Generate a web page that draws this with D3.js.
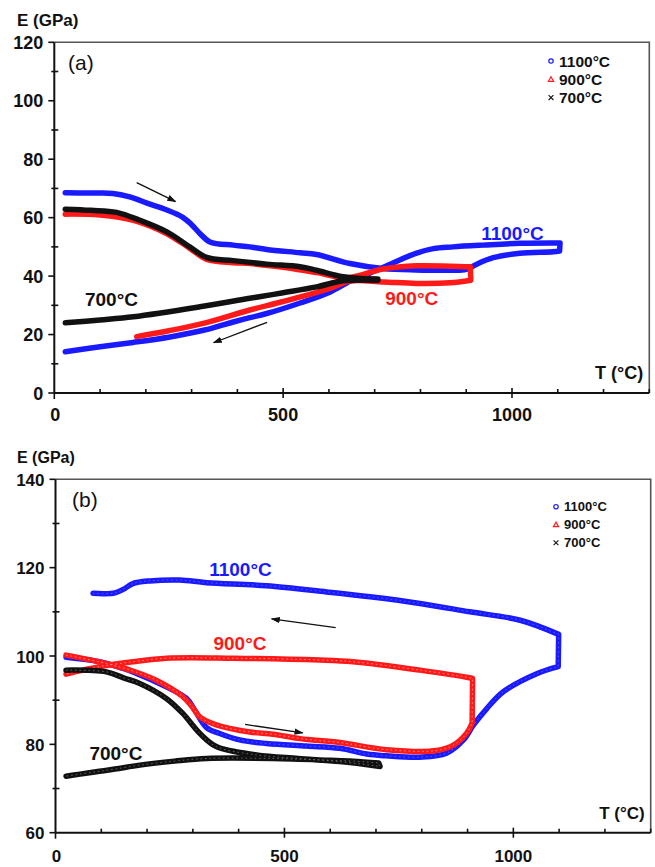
<!DOCTYPE html>
<html><head><meta charset="utf-8">
<script src="https://cdn.jsdelivr.net/npm/d3@7"></script>
<style>body{margin:0;background:#fff}svg{display:block}text{font-family:"Liberation Sans",Arial,sans-serif}</style>
</head><body>
<script>
// ---------- DATA (T in °C, E in GPa) ----------
const seriesNames = ["1100°C", "900°C", "700°C"];
const xTicks = [0, 500, 1000];
const yTicksA = [0, 20, 40, 60, 80, 100, 120];
const yTicksB = [60, 80, 100, 120, 140];

// Panel (a): heating then cooling branches
const a1100Heat = [[24,68.5],[80,68.4],[128,68.3],[165,67.1],[209,64.6],[246,62.6],[280,60.2],[300,57.6],[318,54.6],[340,51.7],[391,50.6],[427,50],[464,49.1],[537,48],[573,47.4],[646,44.3],[718,42.6],[790,42.1],[864,42],[900,42.3],[922,44],[959,46.3],[1017,47.8],[1090,48.3],[1104,48.6]];
const a1100Cool = [[1105,51.3],[1017,51.2],[937,50.6],[871,50],[828,49.4],[790,47.8],[740,44.5],[689,41],[646,38.2],[602,34.5],[537,30.8],[464,27.2],[427,25.8],[391,24.3],[347,22.3],[300,20.6],[250,19.1],[172,17.3],[100,15.8],[24,14.1]];
const a900Heat = [[24,61.2],[100,60.9],[173,59.1],[245,54.6],[296,49.5],[333,45.7],[391,44.6],[427,44.3],[500,43],[573,41.2],[638,39.4],[718,42.4],[791,43.5],[864,43.4],[909,43.2]];
const a900Cool = [[910,38.6],[864,37.7],[791,37.5],[718,38],[646,38.3],[602,35.8],[500,31.3],[427,28.4],[330,24],[250,21.3],[180,19.3]];
const a700Heat = [[24,62.9],[80,62.5],[136,61.8],[187,59.1],[245,55.2],[296,50],[333,46.4],[391,45.3],[464,44.1],[537,43.2],[573,42],[631,39.8],[707,39]];
const a700Cool = [[707,38.6],[631,38.4],[573,36.3],[500,34.3],[427,32.4],[318,29.5],[173,26.1],[100,25],[24,24]];

// Panel (b)
const b1100Heat = [[23,99.7],[96,98.7],[147,97.2],[169,96.4],[242,93],[286,90.4],[305,87.6],[330,83.8],[360,82.4],[402,81],[461,80.2],[548,79.6],[621,79.1],[680,77.8],[723,77.4],[796,77.1],[854,78],[891,81],[913,84.4],[942,88.1],[978,91.9],[1051,96],[1098,97.6]];
const b1100Cool = [[1099,104.9],[1015,108.1],[905,110],[796,111.9],[687,113.4],[592,114.5],[461,115.9],[330,116.6],[271,117.2],[206,117],[169,116.4],[150,115.2],[130,114.3],[105,114.1],[82,114.2]];
const b900Heat = [[23,100.2],[111,98.3],[169,96.6],[220,94.5],[278,90.8],[300,88.3],[315,86.2],[351,84.4],[424,82.8],[475,82.3],[534,81.3],[621,80.4],[723,78.8],[832,78.6],[869,79.8],[898,82.5],[910,84.8]];
const b900Cool = [[911,94.9],[898,95.2],[796,96.8],[650,98.7],[577,99.1],[388,99.5],[242,99.5],[169,98.7],[96,97.6],[60,96.8],[23,95.9]];
const b700Heat = [[23,96.8],[111,96.4],[150,95],[184,93.8],[242,90.4],[278,87],[315,82.5],[351,79.5],[439,77.6],[530,76.8],[621,76.1],[709,75]];
const b700Cool = [[706,75.8],[650,76.2],[600,76.4],[475,76.8],[330,76.8],[260,76.2],[184,75.3],[130,74.4],[89,73.8],[50,73.2],[23,72.8]];

// Annotations (data coords)
const labelsA = [["700°C",125,29.7,"#111"],["1100°C",1001,52.4,"#1a1aff"],["900°C",781,30,"#ff1a1a"]];
const labelsB = [["1100°C",404,118.1,"#1a1aff"],["900°C",403,101.3,"#ff1a1a"],["700°C",132,76.4,"#111"]];
const arrowsA = [[180,72,265,65.5],[465,24.2,348,17.2]];
const arrowsB = [[612,106.4,472,108.4],[414,84.5,540,82.6]];

// ---------- DRAW ----------
const colors = ["#1a1aff", "#ff1a1a", "#111"];
const svg = d3.select("body").append("svg").attr("width", 655).attr("height", 867);
const defs = svg.append("defs");
defs.append("marker").attr("id","ah").attr("viewBox","0 0 10 10").attr("refX",9).attr("refY",5)
  .attr("markerWidth",7).attr("markerHeight",7).attr("orient","auto")
  .append("path").attr("d","M0,1.5L10,5L0,8.5Z").attr("fill","#111");

function panel(cfg) {
  const x = d3.scaleLinear().domain([0, 1300]).range([cfg.left, cfg.right]);
  const y = d3.scaleLinear().domain(cfg.ydom).range([cfg.bottom, cfg.top]);
  const g = svg.append("g");
  g.append("path").attr("d", `M${cfg.left},${cfg.top}H${cfg.right}V${cfg.bottom}`)
    .attr("fill","none").attr("stroke","#555").attr("stroke-width",1.6);

  const line = d3.line().x(d => x(d[0])).y(d => y(d[1])).curve(d3.curveCatmullRom.alpha(0.5));
  cfg.series.forEach((s, i) => {
    const d = line(s[0]) + "L" + line(s[1]).slice(1);
    g.append("path").attr("d", d).attr("fill","none").attr("stroke", colors[i])
      .attr("stroke-width", cfg.lw).attr("stroke-linejoin","round").attr("stroke-linecap","round");
    if (cfg.texture) {
      g.append("path").attr("d", d).attr("fill","none").attr("stroke", i===1 ? "#ffb0b0" : (i===0 ? "#6a6aff" : "#777"))
        .attr("stroke-width", 1).attr("stroke-dasharray","1.5 3").attr("opacity",0.8);
    }
  });

  const ax = g.append("g").attr("stroke","#111").attr("stroke-width",1.6);
  ax.append("line").attr("x1",cfg.left).attr("x2",cfg.right).attr("y1",cfg.bottom).attr("y2",cfg.bottom).attr("stroke-width",2);
  ax.append("line").attr("x1",cfg.left).attr("x2",cfg.left).attr("y1",cfg.top).attr("y2",cfg.bottom).attr("stroke-width",2);
  d3.range(0, 1301, 100).forEach(v => {
    const major = xTicks.includes(v);
    if (v === 0) { ax.append("line").attr("x1",x(v)).attr("x2",x(v)).attr("y1",cfg.bottom).attr("y2",cfg.bottom+6); return; }
    ax.append("line").attr("x1",x(v)).attr("x2",x(v))
      .attr("y1", major ? cfg.bottom-5 : cfg.bottom-4).attr("y2", major ? cfg.bottom+5 : cfg.bottom);
  });
  d3.range(cfg.ydom[0], cfg.ydom[1]+1, 10).forEach(v => {
    const major = cfg.yTicks.includes(v);
    ax.append("line").attr("y1",y(v)).attr("y2",y(v))
      .attr("x1", major ? cfg.left-6 : cfg.left-3).attr("x2", major ? cfg.left : cfg.left+4);
  });
  cfg.yTicks.forEach(v => g.append("text").attr("x",cfg.left-11).attr("y",y(v)+6.5).attr("text-anchor","end")
    .attr("font-size",cfg.fs).attr("font-weight","bold").attr("fill","#111").text(v));
  xTicks.forEach(v => g.append("text").attr("x",x(v)+ (v===0?1:0)).attr("y",cfg.bottom+cfg.xlOff).attr("text-anchor","middle")
    .attr("font-size",cfg.fs).attr("font-weight","bold").attr("fill","#111").text(v));
  g.append("text").attr("x",17).attr("y",cfg.top-16).attr("font-size",cfg.fs-1).attr("font-weight","bold").attr("fill","#111").text("E (GPa)");
  g.append("text").attr("x",cfg.right-6).attr("y",cfg.bottom-14).attr("text-anchor","end")
    .attr("font-size",cfg.fs).attr("font-weight","bold").attr("fill","#111").text("T (°C)");
  g.append("text").attr("x",cfg.panelX).attr("y",cfg.top+28).attr("font-family","Liberation Serif, Times New Roman, serif")
    .attr("font-size",21).attr("fill","#111").text(cfg.panelLabel);

  cfg.labels.forEach(l => g.append("text").attr("x",x(l[1])).attr("y",y(l[2])).attr("text-anchor","middle")
    .attr("font-size",19).attr("font-weight","bold").attr("fill",l[3]).text(l[0]));
  cfg.arrows.forEach(a => g.append("line").attr("x1",x(a[0])).attr("y1",y(a[1])).attr("x2",x(a[2])).attr("y2",y(a[3]))
    .attr("stroke","#111").attr("stroke-width",1.3).attr("marker-end","url(#ah)"));

  const lg = g.append("g");
  seriesNames.forEach((n, i) => {
    const ly = cfg.legY + i * cfg.legDy, lx = cfg.legX;
    if (i === 0) lg.append("circle").attr("cx",lx).attr("cy",ly).attr("r",2.2).attr("fill","none").attr("stroke",colors[0]).attr("stroke-width",1.2);
    if (i === 1) lg.append("path").attr("d",`M${lx},${ly-2.6}L${lx+2.6},${ly+2}L${lx-2.6},${ly+2}Z`).attr("fill","none").attr("stroke",colors[1]).attr("stroke-width",1.2);
    if (i === 2) lg.append("path").attr("d",`M${lx-2.4},${ly-2.4}L${lx+2.4},${ly+2.4}M${lx+2.4},${ly-2.4}L${lx-2.4},${ly+2.4}`).attr("stroke","#111").attr("stroke-width",1.1);
    lg.append("text").attr("x",lx+8).attr("y",ly+cfg.legFs*0.36).attr("font-size",cfg.legFs).attr("font-weight","bold").attr("fill","#111").text(n);
  });
}

panel({left:54.3, right:649.3, top:42.3, bottom:393, ydom:[0,120], yTicks:yTicksA,
  series:[[a1100Heat,a1100Cool],[a900Heat,a900Cool],[a700Heat,a700Cool]],
  lw:5.5, texture:false, fs:18, xlOff:28, panelLabel:"(a)", panelX:68, labels:labelsA, arrows:arrowsA,
  legX:551, legY:61, legDy:18.3, legFs:15.5});
panel({left:55.5, right:650.7, top:479.3, bottom:832.7, ydom:[60,140], yTicks:yTicksB,
  series:[[b1100Heat,b1100Cool],[b900Heat,b900Cool],[b700Heat,b700Cool]],
  lw:5.5, texture:true, fs:17, xlOff:29.5, panelLabel:"(b)", panelX:72, labels:labelsB, arrows:arrowsB,
  legX:556, legY:506.7, legDy:18, legFs:13});
</script>
</body></html>
